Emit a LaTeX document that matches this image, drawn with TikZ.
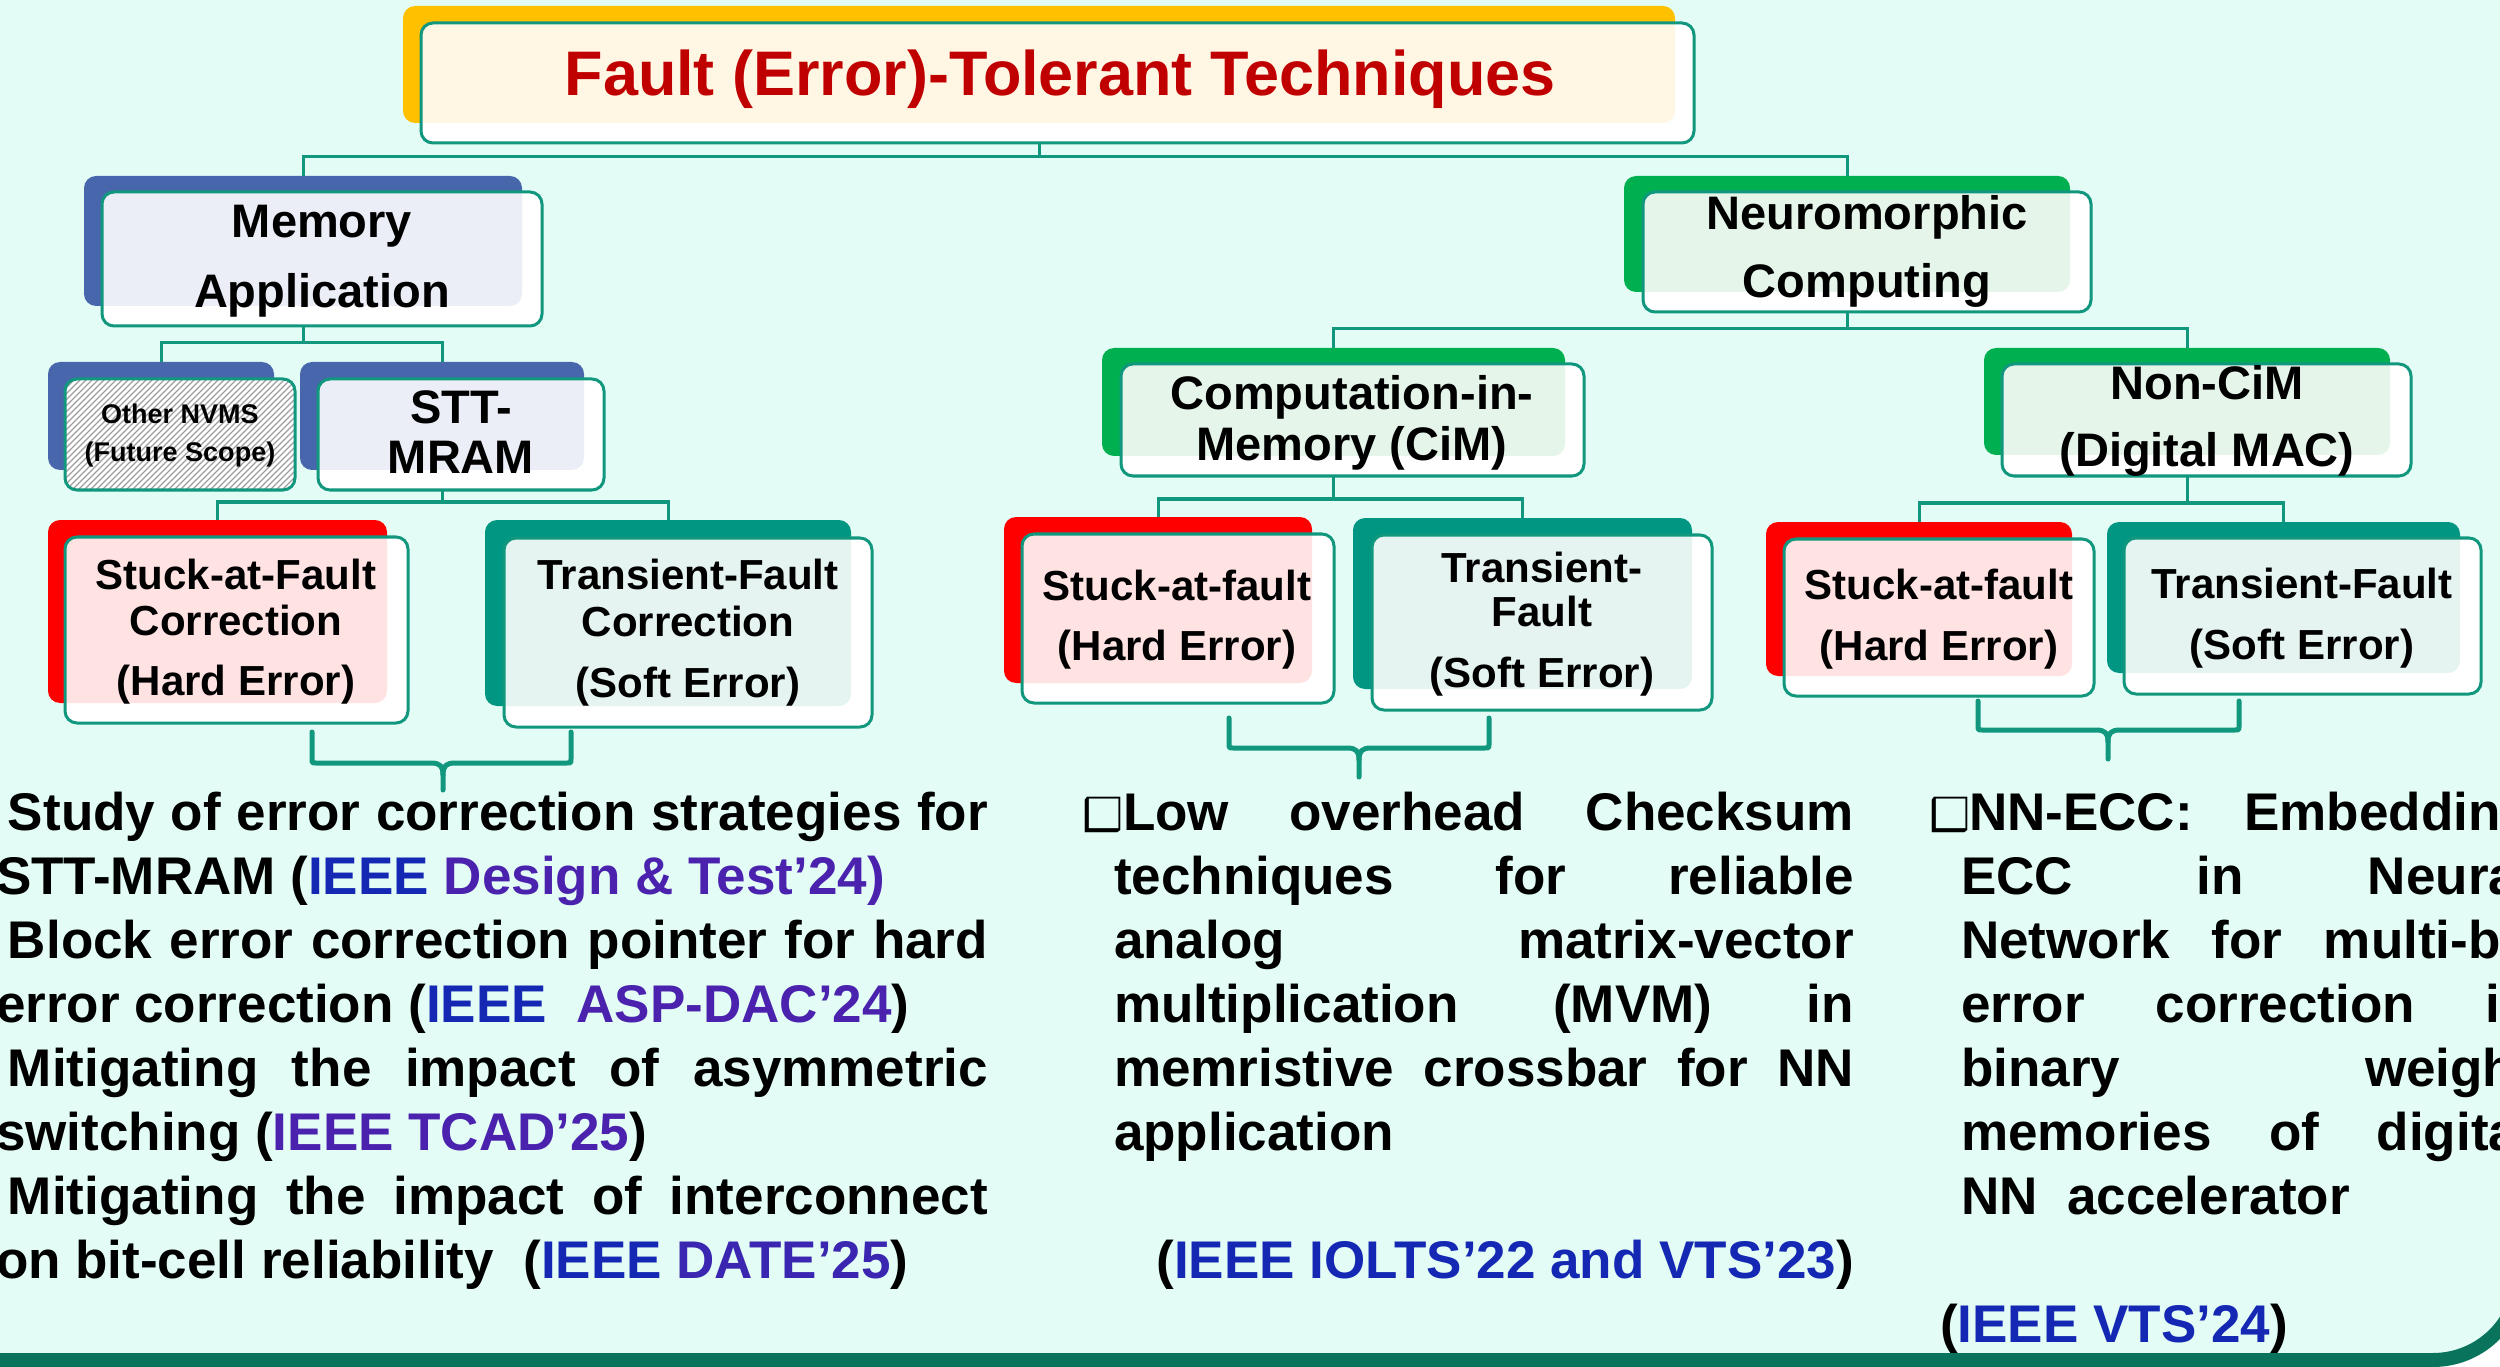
\documentclass[tikz,border=0pt]{standalone}
\usepackage{fontspec}
\setmainfont{Liberation Sans}
\newfontfamily\dejavu{DejaVu Sans}
\usepackage{graphicx}
\usetikzlibrary{fit,calc}

\newlength\pxu
\setlength\pxu{0.01cm}

\definecolor{bgmint}{HTML}{E3FDF6}
\definecolor{tealline}{HTML}{12977F}
\definecolor{bandc}{HTML}{0A735C}
\definecolor{ybk}{HTML}{FFC000}
\definecolor{ytint}{HTML}{FFF6E3}
\definecolor{bbk}{HTML}{4866AC}
\definecolor{btint}{HTML}{ECEEF7}
\definecolor{gbk}{HTML}{00B050}
\definecolor{gtint}{HTML}{E5F5EA}
\definecolor{rbk}{HTML}{FF0000}
\definecolor{rtint}{HTML}{FFE3E3}
\definecolor{tbk}{HTML}{009682}
\definecolor{ttint}{HTML}{E5F3F1}
\definecolor{titlered}{HTML}{C00000}
\definecolor{citeblue}{HTML}{1428B4}
\definecolor{citepurple}{HTML}{4B22AE}
\definecolor{citemix}{HTML}{3A26B0}

\tikzset{
  backbox/.style={rectangle, rounded corners=0.12cm, inner sep=0pt, outer sep=0pt},
  frontbox/.style={rectangle, rounded corners=0.12cm, inner sep=0pt, outer sep=0pt, fill=white},
  edgeline/.style={draw=tealline, line width=0.03cm, rounded corners=0.12cm},
  conn/.style={draw=tealline, line width=0.03cm},
  brk/.style={draw=tealline, line width=0.05cm, line join=round, line cap=round},
  lbl/.style={inner sep=0pt, outer sep=0pt, anchor=base},
  ttltxt/.style={lbl, text=titlered, font=\fontsize{17.9pt}{20pt}\selectfont\bfseries},
  bigtxt/.style={lbl, font=\fontsize{13.37pt}{15pt}\selectfont\bfseries},
  midtxt/.style={lbl, font=\fontsize{11.95pt}{14pt}\selectfont\bfseries},
  smalltxt/.style={lbl, font=\fontsize{7.68pt}{9pt}\selectfont\bfseries},
  bodytxt/.style={inner sep=0pt, outer sep=0pt, anchor=base west, font=\fontsize{15.08pt}{18.2pt}\selectfont\bfseries},
}

% coloured back plate, white front card, tinted overlap, teal outline
\newcommand{\tbox}[7]{%
  \node[backbox, fill=#2, fit={#4 #5}] (#1B) {};
  \node[frontbox, fit={#6 #7}] (#1F) {};
  \begin{scope}
    \clip[rounded corners=0.12cm] (#1F.north west) rectangle (#1F.south east);
    \fill[#3, rounded corners=0.12cm] (#1B.north west) rectangle (#1B.south east);
  \end{scope}
  \draw[edgeline] (#1F.north west) rectangle (#1F.south east);
}

\newcommand{\bul}[1][40]{\makebox[#1\pxu][l]{\dejavu\fontsize{13pt}{13pt}\selectfont\reflectbox{❑}}}
\newcommand{\jline}[4]{\node[bodytxt] (#1) at (#2) {\makebox[#3\pxu][s]{#4}};}
\newcommand{\nline}[3]{\node[bodytxt] (#1) at (#2) {#3};}

% square bracket with a brace tip: x1, x2, xc, ytop, ybar, ytip
\newcommand{\bracepath}[6]{%
  \draw[brk] (#1,#4) -- (#1,{#5-4}) .. controls (#1,#5) .. ({#1+4},#5) -- ({#3-12},#5)
     .. controls ({#3-3},#5) and (#3,{#5+3}) .. (#3,{#5+12}) -- (#3,#6);
  \draw[brk] (#2,#4) -- (#2,{#5-4}) .. controls (#2,#5) .. ({#2-4},#5) -- ({#3+12},#5)
     .. controls ({#3+3},#5) and (#3,{#5+3}) .. (#3,{#5+12});
}

\begin{document}
\begin{tikzpicture}[x=0.01cm, y=-0.01cm]
\useasboundingbox (0,0) rectangle (2500,1367);
\clip (0,0) rectangle (2500,1367);

% slide background and frame
\fill[white] (0,0) rectangle (2500,1367);
\fill[bgmint, rounded corners=0.94cm] (-200,-200) rectangle (2527,1367);
\draw[bandc, line width=0.14cm, rounded corners=0.87cm] (-200,-200) rectangle (2520,1360);

% ---------- boxes ----------
\tbox{tit}{ybk}{ytint}{(403,6)}{(1675,123)}{(421,23)}{(1694,143)}
\tbox{mem}{bbk}{btint}{(84,176)}{(522,306)}{(102,192)}{(542,326)}
\tbox{stt}{bbk}{btint}{(300,362)}{(584,470)}{(318,379)}{(604,490)}
\tbox{safL}{rbk}{rtint}{(48,520)}{(387,703)}{(65,537)}{(408,723)}
\tbox{tfL}{tbk}{ttint}{(485,520)}{(851,706)}{(504,538)}{(872,727)}
\tbox{neu}{gbk}{gtint}{(1624,176)}{(2070,292)}{(1643,192)}{(2091,312)}
\tbox{cim}{gbk}{gtint}{(1102,348)}{(1565,456)}{(1121,364)}{(1584,476)}
\tbox{nc}{gbk}{gtint}{(1984,348)}{(2390,455)}{(2002,364)}{(2411,476)}
\tbox{safM}{rbk}{rtint}{(1004,517)}{(1312,683)}{(1022,534)}{(1334,703)}
\tbox{tfM}{tbk}{ttint}{(1353,518)}{(1692,689)}{(1372,535)}{(1712,710)}
\tbox{safR}{rbk}{rtint}{(1766,522)}{(2072,676)}{(1784,539)}{(2094,696)}
\tbox{tfR}{tbk}{ttint}{(2107,522)}{(2460,673)}{(2124,538)}{(2481,694)}

% hatched card for future NVM work
\node[backbox, fill=bbk, fit={(48,362) (274,470)}] (nvB) {};
\node[frontbox, fit={(65,379) (295,490)}] (nvF) {};
\begin{scope}
  \clip[rounded corners=0.12cm] (nvF.north west) rectangle (nvF.south east);
  \foreach \i in {-130,-124,...,300}
    \draw[gray!75, line width=0.012cm] (\i,500) -- ({\i+130},370);
\end{scope}
\draw[edgeline] (nvF.north west) rectangle (nvF.south east);

% ---------- tree connectors ----------
\draw[conn] (titB.south |- titF.south) -- (titB.south |- 0,157) -| (memB.north);
\draw[conn] (titB.south |- 0,157) -| (neuB.north);
\draw[conn] (memB.south |- memF.south) -- (memB.south |- 0,343) -| (nvB.north);
\draw[conn] (memB.south |- 0,343) -| (sttB.north);
\draw[conn] (sttB.south |- sttF.south) -- (sttB.south |- 0,502) -| (safLB.north);
\draw[conn] (sttB.south |- 0,502) -| (tfLB.north);
\draw[conn] (neuB.south |- neuF.south) -- (neuB.south |- 0,329) -| (cimB.north);
\draw[conn] (neuB.south |- 0,329) -| (ncB.north);
\draw[conn] (cimB.south |- cimF.south) -- (cimB.south |- 0,499) -| (safMB.north);
\draw[conn] (cimB.south |- 0,499) -| (tfMB.north);
\draw[conn] (ncB.south |- ncF.south) -- (ncB.south |- 0,503) -| (safRB.north);
\draw[conn] (ncB.south |- 0,503) -| (tfRB.north);

% brackets gathering each fault pair
\bracepath{312}{571}{443}{732}{763}{790}
\bracepath{1229}{1489}{1359}{718}{748}{777}
\bracepath{1978}{2239}{2108}{701}{730}{759}

% ---------- box labels ----------
\node[ttltxt] (titT) at (1060,96) {Fault (Error)-Tolerant Techniques};
\node[bigtxt] (memT1) at (322,238) {Memory};
\node[bigtxt] (memT2) at (322,308) {Application};
\node[smalltxt] (nvT1) at (180,423) {Other NVMS};
\node[smalltxt] (nvT2) at (180,462) {(Future Scope)};
\node[bigtxt] (sttT1) at (461,423) {STT-};
\node[bigtxt] (sttT2) at (461,473) {MRAM};
\node[midtxt] (safLT1) at (236,590) {Stuck-at-Fault};
\node[midtxt] (safLT2) at (236,635) {Correction};
\node[midtxt] (safLT3) at (236,695) {(Hard Error)};
\node[midtxt] (tfLT1) at (688,590) {Transient-Fault};
\node[midtxt] (tfLT2) at (688,636) {Correction};
\node[midtxt] (tfLT3) at (688,697) {(Soft Error)};
\node[bigtxt] (neuT1) at (1867,230) {Neuromorphic};
\node[bigtxt] (neuT2) at (1867,298) {Computing};
\node[bigtxt] (cimT1) at (1352,410) {Computation-in-};
\node[bigtxt] (cimT2) at (1352,460) {Memory (CiM)};
\node[bigtxt] (ncT1) at (2207,400) {Non-CiM};
\node[bigtxt] (ncT2) at (2207,467) {(Digital MAC)};
\node[midtxt] (safMT1) at (1177,600) {Stuck-at-fault};
\node[midtxt] (safMT2) at (1177,660) {(Hard Error)};
\node[midtxt] (tfMT1) at (1542,582) {Transient-};
\node[midtxt] (tfMT2) at (1542,626) {Fault};
\node[midtxt] (tfMT3) at (1542,687) {(Soft Error)};
\node[midtxt] (safRT1) at (1939,599) {Stuck-at-fault};
\node[midtxt] (safRT2) at (1939,660) {(Hard Error)};
\node[midtxt] (tfRT1) at (2302,598) {Transient-Fault};
\node[midtxt] (tfRT2) at (2302,659) {(Soft Error)};

% ---------- memory column ----------
\jline{l1}{-52,830}{1040}{\bul[60]{}Study of error correction strategies for}
\nline{l2}{-4,894}{STT-MRAM ({\color{citeblue}IEEE} {\color{citepurple}Design \& Test’24)}}
\jline{l3}{-52,958}{1040}{\bul[60]{}Block error correction pointer for hard}
\nline{l4}{-4,1022}{error correction ({\color{citeblue}IEEE}~~{\color{citepurple}ASP-DAC’24})}
\jline{l5}{-52,1086}{1040}{\bul[60]{}Mitigating the impact of asymmetric}
\nline{l6}{-4,1150}{switching ({\color{citepurple}IEEE TCAD’25})}
\jline{l7}{-52,1214}{1040}{\bul[60]{}Mitigating the impact of interconnect}
\nline{l8}{-4,1278}{on bit-cell reliability~~({\color{citeblue}IEEE} {\color{citemix}DATE’25})}

% ---------- CiM column ----------
\jline{m1}{1083,830}{771}{\bul{}Low overhead Checksum}
\jline{m2}{1114,894}{740}{techniques for reliable}
\jline{m3}{1114,958}{740}{analog matrix-vector}
\jline{m4}{1114,1022}{740}{multiplication (MVM) in}
\jline{m5}{1114,1086}{740}{memristive crossbar for NN}
\nline{m6}{1114,1150}{application}
\node[bodytxt, anchor=base east] (m7) at (1854,1278) {({\color{citeblue}IEEE IOLTS’22 and VTS’23})};

% ---------- digital MAC column ----------
\jline{r1}{1929,830}{604}{\bul{}NN-ECC: Embedding}
\jline{r2}{1961,894}{572}{ECC in Neural}
\jline{r3}{1961,958}{572}{Network for multi-bit}
\jline{r4}{1961,1022}{572}{error correction in}
\jline{r5}{1961,1086}{572}{binary weight}
\jline{r6}{1961,1150}{572}{memories of digital}
\nline{r7}{1961,1214}{NN~~accelerator}
\nline{r8}{1940,1342}{({\color{citeblue}IEEE VTS’24})}
\end{tikzpicture}
\end{document}
